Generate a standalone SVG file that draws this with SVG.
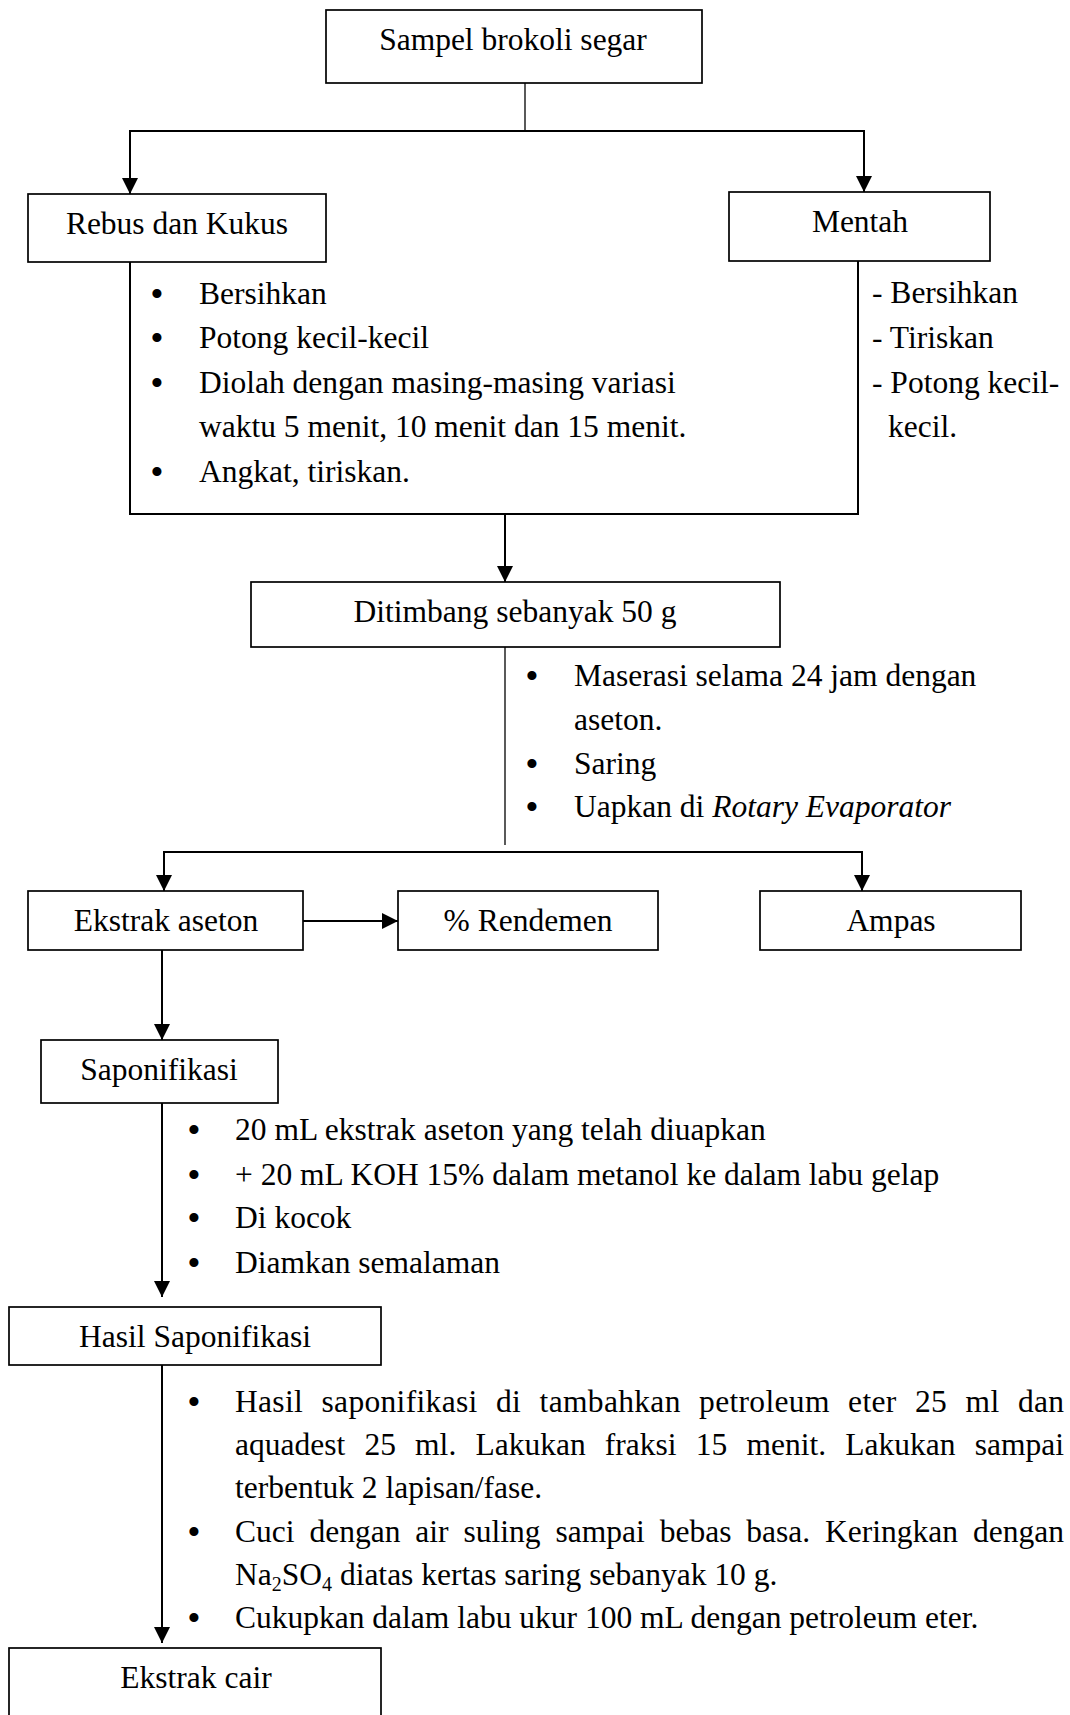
<svg xmlns="http://www.w3.org/2000/svg" width="1070" height="1715" viewBox="0 0 1070 1715">
<style>
text{font-family:"Liberation Serif","Times New Roman",serif;font-size:31.5px;fill:#000}
.c{text-anchor:middle}
.b{text-anchor:middle;font-size:38px}
.box{fill:#fff;stroke:#000;stroke-width:1.7}
.ln{fill:none;stroke:#000;stroke-width:2}
.thin{fill:none;stroke:#000;stroke-width:1.3}
.ar{fill:none;stroke:#000;stroke-width:2;marker-end:url(#ah)}
</style>
<defs>
<marker id="ah" markerUnits="userSpaceOnUse" viewBox="0 0 16 16" refX="16" refY="8" markerWidth="16" markerHeight="16" orient="auto">
<path d="M0,0 L16,8 L0,16 z" fill="#000"/>
</marker>
</defs>
<rect width="1070" height="1715" fill="#fff"/>
<g id="connectors">
<line class="thin" x1="525" y1="83" x2="525" y2="131"/>
<line class="ln" x1="129" y1="131" x2="865" y2="131"/>
<line class="ar" x1="130" y1="131" x2="130" y2="194"/>
<line class="ar" x1="864" y1="131" x2="864" y2="192"/>
<path class="ln" d="M130,262 V514 H858 V261"/>
<line class="ar" x1="505" y1="514" x2="505" y2="582"/>
<line class="thin" x1="505" y1="647" x2="505" y2="845"/>
<line class="ln" x1="163" y1="852" x2="863" y2="852"/>
<line class="ar" x1="164" y1="852" x2="164" y2="891"/>
<line class="ar" x1="862" y1="852" x2="862" y2="891"/>
<line class="ar" x1="303" y1="921" x2="398" y2="921"/>
<line class="ar" x1="162" y1="950" x2="162" y2="1040"/>
<line class="ar" x1="162" y1="1103" x2="162" y2="1297"/>
<line class="ar" x1="162" y1="1365" x2="162" y2="1643"/>
</g>
<g id="n-sampel">
<rect class="box" x="326" y="10" width="376" height="73"/>
<text class="c" x="513" y="50">Sampel brokoli segar</text>
</g>
<g id="n-rebus">
<rect class="box" x="28" y="194" width="298" height="68"/>
<text class="c" x="177" y="234">Rebus dan Kukus</text>
</g>
<g id="n-mentah">
<rect class="box" x="729" y="192" width="261" height="69"/>
<text class="c" x="860" y="232">Mentah</text>
</g>
<g id="list-rebus">
<text class="b" x="157" y="307">•</text>
<text x="199" y="304">Bersihkan</text>
<text class="b" x="157" y="351">•</text>
<text x="199" y="348">Potong kecil-kecil</text>
<text class="b" x="157" y="396">•</text>
<text x="199" y="393">Diolah dengan masing-masing variasi</text>
<text x="199" y="437">waktu 5 menit, 10 menit dan 15 menit.</text>
<text class="b" x="157" y="485">•</text>
<text x="199" y="482">Angkat, tiriskan.</text>
</g>
<g id="list-mentah">
<text x="872" y="303">- Bersihkan</text>
<text x="872" y="348">- Tiriskan</text>
<text x="872" y="393">- Potong kecil-</text>
<text x="888" y="437">kecil.</text>
</g>
<g id="n-ditimbang">
<rect class="box" x="251" y="582" width="529" height="65"/>
<text class="c" x="515" y="622">Ditimbang sebanyak 50 g</text>
</g>
<g id="list-maserasi">
<text class="b" x="532" y="689">•</text>
<text x="574" y="686">Maserasi selama 24 jam dengan</text>
<text x="574" y="730">aseton.</text>
<text class="b" x="532" y="777">•</text>
<text x="574" y="774">Saring</text>
<text class="b" x="532" y="820">•</text>
<text x="574" y="817">Uapkan di <tspan font-style="italic">Rotary Evaporator</tspan></text>
</g>
<g id="n-ekstrak-aseton">
<rect class="box" x="28" y="891" width="275" height="59"/>
<text class="c" x="166" y="931">Ekstrak aseton</text>
</g>
<g id="n-rendemen">
<rect class="box" x="398" y="891" width="260" height="59"/>
<text class="c" x="528" y="931">% Rendemen</text>
</g>
<g id="n-ampas">
<rect class="box" x="760" y="891" width="261" height="59"/>
<text class="c" x="891" y="931">Ampas</text>
</g>
<g id="n-saponifikasi">
<rect class="box" x="41" y="1040" width="237" height="63"/>
<text class="c" x="159" y="1080">Saponifikasi</text>
</g>
<g id="list-saponifikasi">
<text class="b" x="194" y="1143">•</text>
<text x="235" y="1140">20 mL ekstrak aseton yang telah diuapkan</text>
<text class="b" x="194" y="1188">•</text>
<text x="235" y="1185">+ 20 mL KOH 15% dalam metanol ke dalam labu gelap</text>
<text class="b" x="194" y="1231">•</text>
<text x="235" y="1228">Di kocok</text>
<text class="b" x="194" y="1276">•</text>
<text x="235" y="1273">Diamkan semalaman</text>
</g>
<g id="n-hasil">
<rect class="box" x="9" y="1307" width="372" height="58"/>
<text class="c" x="195" y="1347">Hasil Saponifikasi</text>
</g>
<g id="list-hasil">
<text class="b" x="194" y="1415">•</text>
<text x="235" y="1412" word-spacing="10.2" textLength="829" lengthAdjust="spacing">Hasil saponifikasi di tambahkan petroleum eter 25 ml dan</text>
<text x="235" y="1455" word-spacing="11.3" textLength="829" lengthAdjust="spacing">aquadest 25 ml. Lakukan fraksi 15 menit. Lakukan sampai</text>
<text x="235" y="1498">terbentuk 2 lapisan/fase.</text>
<text class="b" x="194" y="1545">•</text>
<text x="235" y="1542" word-spacing="7" textLength="829" lengthAdjust="spacing">Cuci dengan air suling sampai bebas basa. Keringkan dengan</text>
<text x="235" y="1585">Na<tspan font-size="20" dy="6">2</tspan><tspan dy="-6">SO</tspan><tspan font-size="20" dy="6">4</tspan><tspan dy="-6"> diatas kertas saring sebanyak 10 g.</tspan></text>
<text class="b" x="194" y="1631">•</text>
<text x="235" y="1628">Cukupkan dalam labu ukur 100 mL dengan petroleum eter.</text>
</g>
<g id="n-ekstrak-cair">
<rect class="box" x="9" y="1648" width="372" height="70"/>
<text class="c" x="196" y="1688">Ekstrak cair</text>
</g>
</svg>
